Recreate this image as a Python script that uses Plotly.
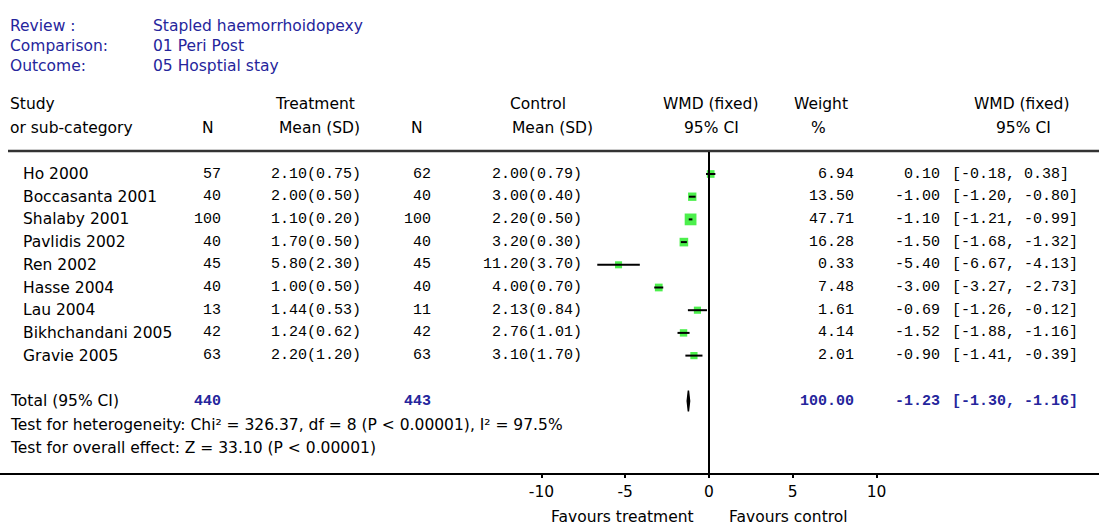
import plotly.graph_objects as go

# ---------------- data ----------------
studies = ["Ho 2000", "Boccasanta 2001", "Shalaby 2001", "Pavlidis 2002", "Ren 2002",
           "Hasse 2004", "Lau 2004", "Bikhchandani 2005", "Gravie 2005"]
n_treat = [57, 40, 100, 40, 45, 40, 13, 42, 63]
mean_treat = [2.10, 2.00, 1.10, 1.70, 5.80, 1.00, 1.44, 1.24, 2.20]
sd_treat = [0.75, 0.50, 0.20, 0.50, 2.30, 0.50, 0.53, 0.62, 1.20]
n_ctrl = [62, 40, 100, 40, 45, 40, 11, 42, 63]
mean_ctrl = [2.00, 3.00, 2.20, 3.20, 11.20, 4.00, 2.13, 2.76, 3.10]
sd_ctrl = [0.79, 0.40, 0.50, 0.30, 3.70, 0.70, 0.84, 1.01, 1.70]
weight = [6.94, 13.50, 47.71, 16.28, 0.33, 7.48, 1.61, 4.14, 2.01]
wmd = [0.10, -1.00, -1.10, -1.50, -5.40, -3.00, -0.69, -1.52, -0.90]
ci_lo = [-0.18, -1.20, -1.21, -1.68, -6.67, -3.27, -1.26, -1.88, -1.41]
ci_hi = [0.38, -0.80, -0.99, -1.32, -4.13, -2.73, -0.12, -1.16, -0.39]

total_n_treat = 440
total_n_ctrl = 443
total_weight = 100.00
total_wmd = -1.23
total_lo = -1.30
total_hi = -1.16

tick_vals = [-10, -5, 0, 5, 10]
tick_text = ["-10", "-5", "0", "5", "10"]

# ---------------- layout helpers ----------------
W, H = 1099, 525
def px(x):
    return x / W
def py(y):
    return 1 - y / H

rows = list(range(len(studies)))
total_row = 10
het_row = 11.05
eff_row = 12.08

SANS = "DejaVu Sans, Verdana, sans-serif"
MONO = "Liberation Mono, DejaVu Sans Mono, monospace"
FS = 15.5
MS = 15
BLUE = "#25259c"
GREEN = "#00e800"

fig = go.Figure()

# squares
fig.add_trace(go.Scatter(
    x=wmd, y=rows, mode="markers",
    marker=dict(symbol="square", color=GREEN, size=[7 + 0.1 * w for w in weight],
                line=dict(width=0)),
    hoverinfo="skip", showlegend=False))

# CI lines
xs, ys = [], []
for r, a, b in zip(rows, ci_lo, ci_hi):
    xs += [a, b, None]
    ys += [r, r, None]
fig.add_trace(go.Scatter(x=xs, y=ys, mode="lines", line=dict(color="black", width=2),
                         hoverinfo="skip", showlegend=False))

# total diamond
fig.add_trace(go.Scatter(
    x=[total_lo, total_wmd, total_hi, total_wmd, total_lo],
    y=[total_row, total_row - 0.46, total_row, total_row + 0.46, total_row],
    mode="lines", fill="toself", fillcolor="black", line=dict(color="black", width=1.5),
    hoverinfo="skip", showlegend=False))

ann = []
def txt(text, x, y, anchor="left", yref="paper", color="black", font=SANS, size=FS):
    ann.append(dict(text=text, x=x, y=y, xref="paper", yref=yref, xanchor=anchor,
                    yanchor="middle", showarrow=False,
                    font=dict(family=font, size=size, color=color)))

# title block
txt("Review :", px(8), py(26), color=BLUE)
txt("Stapled haemorrhoidopexy", px(151), py(26), color=BLUE)
txt("Comparison:", px(8), py(46), color=BLUE)
txt("01 Peri Post", px(151), py(46), color=BLUE)
txt("Outcome:", px(8), py(66), color=BLUE)
txt("05 Hosptial stay", px(151), py(66), color=BLUE)

# column headers
txt("Study", px(8), py(104))
txt("or sub-category", px(8), py(128))
txt("N", px(208), py(128), anchor="center")
txt("Treatment", px(315), py(104), anchor="center")
txt("Mean (SD)", px(319), py(128), anchor="center")
txt("N", px(417), py(128), anchor="center")
txt("Control", px(538), py(104), anchor="center")
txt("Mean (SD)", px(552), py(128), anchor="center")
txt("WMD (fixed)", px(711), py(104), anchor="center")
txt("95% CI", px(711), py(128), anchor="center")
txt("Weight", px(821), py(104), anchor="center")
txt("%", px(819), py(128), anchor="center")
txt("WMD (fixed)", px(1022), py(104), anchor="center")
txt("95% CI", px(1023), py(128), anchor="center")

# study rows
for r in rows:
    txt(studies[r], px(21), r, yref="y")
    txt(str(n_treat[r]), px(223), r, anchor="right", yref="y", font=MONO, size=MS)
    txt(f"{mean_treat[r]:.2f}({sd_treat[r]:.2f})", px(316), r, anchor="center", yref="y", font=MONO, size=MS)
    txt(str(n_ctrl[r]), px(433), r, anchor="right", yref="y", font=MONO, size=MS)
    txt(f"{mean_ctrl[r]:.2f}({sd_ctrl[r]:.2f})", px(584), r, anchor="right", yref="y", font=MONO, size=MS)
    txt(f"{weight[r]:.2f}", px(856), r, anchor="right", yref="y", font=MONO, size=MS)
    txt(f"{wmd[r]:.2f}", px(942), r, anchor="right", yref="y", font=MONO, size=MS)
    txt(f"[{ci_lo[r]:.2f}, {ci_hi[r]:.2f}]", px(950), r, anchor="left", yref="y", font=MONO, size=MS)

# total row
txt("Total (95% CI)", px(8), total_row, yref="y")
txt(f"<b>{total_n_treat}</b>", px(223), total_row, anchor="right", yref="y", font=MONO, size=MS, color=BLUE)
txt(f"<b>{total_n_ctrl}</b>", px(433), total_row, anchor="right", yref="y", font=MONO, size=MS, color=BLUE)
txt(f"<b>{total_weight:.2f}</b>", px(856), total_row, anchor="right", yref="y", font=MONO, size=MS, color=BLUE)
txt(f"<b>{total_wmd:.2f}</b>", px(942), total_row, anchor="right", yref="y", font=MONO, size=MS, color=BLUE)
txt(f"<b>[{total_lo:.2f}, {total_hi:.2f}]</b>", px(950), total_row, anchor="left", yref="y", font=MONO, size=MS, color=BLUE)
txt("Test for heterogeneity: Chi² = 326.37, df = 8 (P < 0.00001), I² = 97.5%", px(8), het_row, yref="y")
txt("Test for overall effect: Z = 33.10 (P < 0.00001)", px(8), eff_row, yref="y")

# favours labels
txt("Favours treatment", px(622), py(517), anchor="center")
txt("Favours control", px(788), py(517), anchor="center")

# axis geometry
ZERO_PX = 709.0
SCALE = 16.75
AXIS_PX = 473.0
ROW0_PX = 174.0
ROW_STEP = 22.7

shapes = [
    dict(type="line", xref="paper", yref="paper", x0=px(8), x1=1, y0=py(151), y1=py(151),
         line=dict(color="#333333", width=2.5)),
    dict(type="line", xref="x", yref="paper", x0=0, x1=0, y0=py(AXIS_PX), y1=py(152),
         line=dict(color="black", width=2)),
]

fig.update_layout(
    width=W, height=H,
    margin=dict(l=0, r=0, t=0, b=0),
    paper_bgcolor="white", plot_bgcolor="white",
    annotations=ann, shapes=shapes,
    xaxis=dict(range=[-ZERO_PX / SCALE, (W - ZERO_PX) / SCALE], domain=[0, 1],
               showgrid=False, zeroline=False, showline=True, linecolor="black", linewidth=2,
               ticks="outside", ticklen=3, tickwidth=2, tickcolor="black",
               tickvals=tick_vals, ticktext=tick_text,
               tickfont=dict(family=SANS, size=FS, color="black")),
    yaxis=dict(range=[(AXIS_PX - ROW0_PX) / ROW_STEP, -ROW0_PX / ROW_STEP],
               domain=[py(AXIS_PX), 1], visible=False, showgrid=False, zeroline=False),
    showlegend=False,
)

fig.write_html("out.html")
